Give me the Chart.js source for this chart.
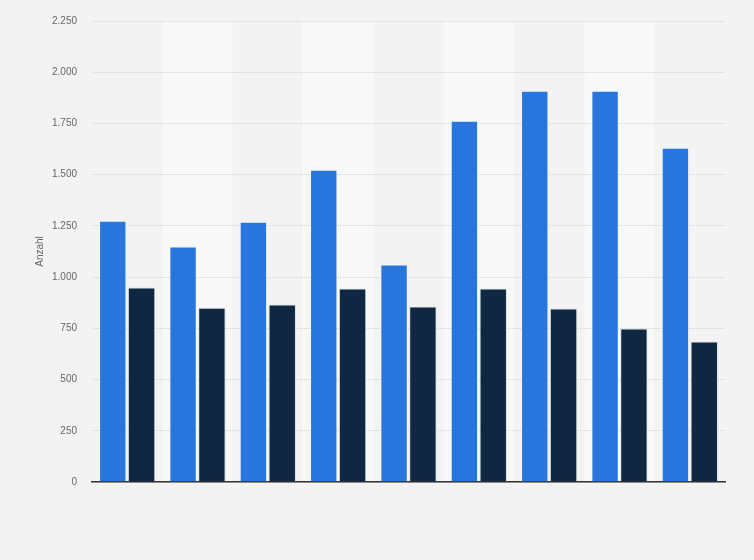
<!DOCTYPE html>
<html>
<head>
<meta charset="utf-8">
<script src="https://cdn.jsdelivr.net/npm/chart.js@4/dist/chart.umd.min.js"></script>
<style>
  html, body { margin: 0; padding: 0; background: #f3f3f3; }
  #wrap { width: 754px; height: 560px; }
</style>
</head>
<body>
<div id="wrap"><canvas id="chart" width="754" height="560"></canvas></div>
<script>
// categories are not labelled in the picture
const categories = ['1', '2', '3', '4', '5', '6', '7', '8', '9'];
const seriesA = [1275, 1149, 1270, 1524, 1061, 1763, 1909, 1909, 1631];
const seriesB = [949, 851, 866, 944, 856, 944, 847, 749, 686];
const yMax = 2250;
const yStep = 250;

function fmt(v) {
    return String(v).replace(/\B(?=(\d{3})+(?!\d))/g, '.');
}

// lighter band behind every second category, painted before grid and bars
const bands = {
    id: 'bands',
    beforeDraw(chart) {
        const x = chart.scales.x, area = chart.chartArea, ctx = chart.ctx;
        const w = (area.right - area.left) / categories.length;
        ctx.save();
        ctx.fillStyle = '#f8f8f8';
        categories.forEach((c, i) => {
            if (i % 2 === 1) {
                const cx = x.getPixelForValue(i);
                ctx.fillRect(cx - w / 2, area.top, w, area.bottom - area.top);
            }
        });
        ctx.restore();
    }
};

const ctx = document.getElementById('chart');
new Chart(ctx, {
    type: 'bar',
    data: {
        labels: categories,
        datasets: [{
            data: seriesA,
            backgroundColor: '#2876dd',
            borderColor: 'rgba(255,255,255,0.3)',
            borderWidth: 1,
            barPercentage: 0.95,
            categoryPercentage: 0.82
        }, {
            data: seriesB,
            backgroundColor: '#0f2740',
            borderColor: 'rgba(190,200,210,0.55)',
            borderWidth: 1,
            barPercentage: 0.95,
            categoryPercentage: 0.82
        }]
    },
    options: {
        responsive: false,
        animation: false,
        layout: { padding: { left: 30, right: 29, top: 17, bottom: 78 } },
        plugins: {
            legend: { display: false },
            tooltip: { enabled: false }
        },
        scales: {
            x: {
                ticks: { display: false },
                grid: { display: false, drawTicks: false },
                border: { display: true, color: '#333333', width: 1.5 }
            },
            y: {
                min: 0,
                max: yMax,
                afterFit(scale) { scale.width = 62; },
                ticks: {
                    stepSize: yStep,
                    padding: 15,
                    color: '#666666',
                    font: { family: 'Liberation Sans', size: 10 },
                    callback: v => fmt(v)
                },
                grid: { color: '#d2d2d2', lineWidth: 1, drawTicks: false },
                border: { display: false, dash: [1, 1] },
                title: {
                    display: true,
                    text: 'Anzahl',
                    color: '#666666',
                    font: { family: 'Liberation Sans', size: 10 },
                    padding: { top: 4, bottom: 0 }
                }
            }
        }
    },
    plugins: [bands]
});
</script>
</body>
</html>
